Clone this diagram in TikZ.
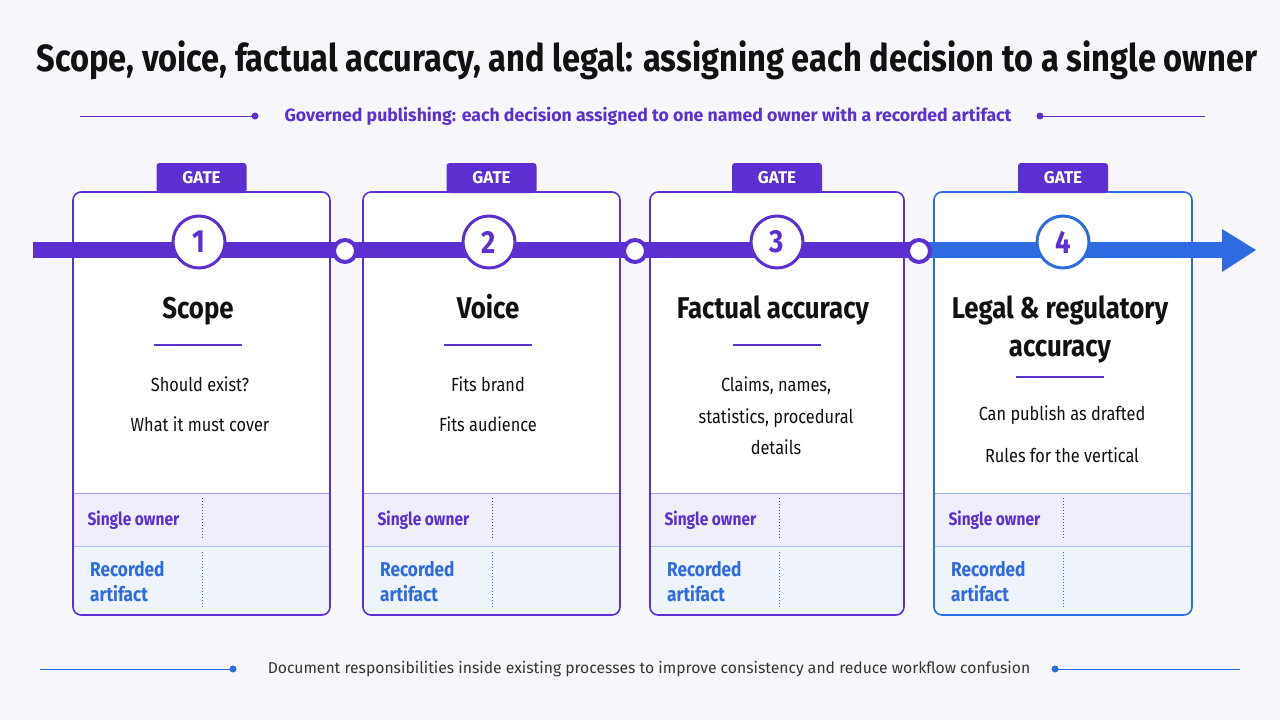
\documentclass[tikz,border=0pt]{standalone}
\usepackage{fontspec}
\setmainfont{Fira Sans}
\newfontfamily\cond[FakeStretch=0.86]{Fira Sans}
\usetikzlibrary{arrows.meta}
\definecolor{pur}{HTML}{5B2FD0}
\definecolor{blu}{HTML}{2F6BE0}
\definecolor{ink}{HTML}{111111}
\definecolor{bg}{HTML}{F7F7FB}
\definecolor{ownbg}{HTML}{F1EEFB}
\definecolor{artbg}{HTML}{EEF3FC}
\tikzset{
 card/.style={draw=#1, line width=1.6pt, rounded corners=8pt},
 gatetab/.style={fill=pur, rounded corners=3pt, minimum width=90pt, minimum height=30pt, text=white, font=\bfseries\fontsize{17}{17}\selectfont},
 num/.style={circle, draw=#1, line width=3pt, fill=white, minimum size=52pt, inner sep=0, text=pur, font=\cond\bfseries\fontsize{32}{32}\selectfont},
 junc/.style={circle, draw=pur, line width=4pt, fill=white, minimum size=22pt, inner sep=0},
 ctitle/.style={font=\cond\bfseries\fontsize{30}{37}\selectfont, text=ink, anchor=base},
 body/.style={font=\cond\fontsize{19}{22}\selectfont, text=ink, anchor=base},
 own/.style={font=\cond\bfseries\fontsize{18}{20}\selectfont, text=pur, anchor=west},
 art/.style={font=\cond\bfseries\fontsize{20}{25}\selectfont, text=blu, anchor=north west, align=left, inner sep=0},
}
\begin{document}
\begin{tikzpicture}[x=1pt,y=-1pt]
\fill[bg] (0,0) rectangle (1280,720);
\useasboundingbox (0,0) rectangle (1280,720);
\node[font=\cond\bfseries, text=ink] (title) at (647,60) {\resizebox{1220pt}{!}{Scope, voice, factual accuracy, and legal: assigning each decision to a single owner}};
\node[font=\bfseries\fontsize{17.7}{18}\selectfont, text=pur] (sub) at (648,116) {Governed publishing: each decision assigned to one named owner with a recorded artifact};
\coordinate (s1) at (80,116); \coordinate (s2) at (255,116);
\coordinate (s3) at (1040,116); \coordinate (s4) at (1205,116);
\draw[pur, line width=1pt] (s1) -- (s2); \fill[pur] (s2) circle (3.5pt);
\draw[pur, line width=1pt] (s3) -- (s4); \fill[pur] (s3) circle (3.5pt);
% cards
\foreach \i/\a/\b/\c in {1/73/330/pur,2/363/620/pur,3/650/904/pur,4/934/1192/blu}{
 \fill[white, rounded corners=8pt] (\a,192) rectangle (\b,615);
 \fill[ownbg] (\a,493) rectangle (\b,546);
 \fill[artbg, rounded corners=8pt] (\a,546) rectangle (\b,615);
 \fill[artbg] (\a,546) rectangle (\b,580);
 \draw[\c!50, line width=1pt] (\a,493) -- (\b,493);
 \draw[blu!40, line width=1pt] (\a,546) -- (\b,546);
 \draw[pur, dotted, line width=1pt] (\a+129,498) -- (\a+129,540);
 \draw[blu, dotted, line width=1pt] (\a+129,552) -- (\a+129,608);
 \draw[card=\c] (\a,192) rectangle (\b,615);
 \node[gatetab] (g\i) at ({(\a+\b)/2},178) {GATE};
 \node[own] (o\i) at (\a+11,520) {Single owner};
 \node[art] (r\i) at (\a+17,561) {Recorded\\artifact};
}
% axis
\coordinate (a0) at (33,250);
\coordinate (aj) at (919,250);
\coordinate (ae) at (1256,250);
\draw[pur, line width=16pt] (a0) -- (aj);
\draw[blu, line width=16pt] (aj) -- (1224,250);
\fill[blu] (1222,229) -- (ae) -- (1222,272) -- cycle;
\node[num=pur] (n1) at (199,242) {1};
\node[num=pur] (n2) at (489,242) {2};
\node[num=pur] (n3) at (777,242) {3};
\node[num=blu] (n4) at (1063,242) {4};
\node[junc] (j1) at (345,251) {};
\node[junc] (j2) at (635,251) {};
\node[junc] (j3) at (919,251) {};
% content
\node[ctitle] (t1) at (198,318) {Scope};
\node[ctitle] (t2) at (488,318) {Voice};
\node[ctitle] (t3) at (773,318) {Factual accuracy};
\node[ctitle] (t4a) at (1060,318) {Legal \& regulatory};
\node[ctitle] (t4b) at (1060,356) {accuracy};
\foreach \x/\y in {198/345,488/345,777/345,1060/377}
 \draw[pur, line width=1.5pt] (\x-44,\y) -- (\x+44,\y);
\node[body] (b1a) at (200,391) {Should exist?};
\node[body] (b1b) at (200,431) {What it must cover};
\node[body] (b2a) at (488,391) {Fits brand};
\node[body] (b2b) at (488,431) {Fits audience};
\node[body] (b3a) at (776,391) {Claims, names,};
\node[body] (b3b) at (776,423) {statistics, procedural};
\node[body] (b3c) at (776,454) {details};
\node[body] (b4a) at (1062,420) {Can publish as drafted};
\node[body] (b4b) at (1062,462) {Rules for the vertical};
% footer
\node[font=\fontsize{15.7}{16}\selectfont, text=ink!85] (foot) at (649,669) {Document responsibilities inside existing processes to improve consistency and reduce workflow confusion};
\coordinate (f1) at (40,669); \coordinate (f2) at (233,669);
\coordinate (f3) at (1055,669); \coordinate (f4) at (1240,669);
\draw[blu, line width=1pt] (f1) -- (f2); \fill[blu] (f2) circle (3.5pt);
\draw[blu, line width=1pt] (f3) -- (f4); \fill[blu] (f3) circle (3.5pt);
\end{tikzpicture}
\end{document}
